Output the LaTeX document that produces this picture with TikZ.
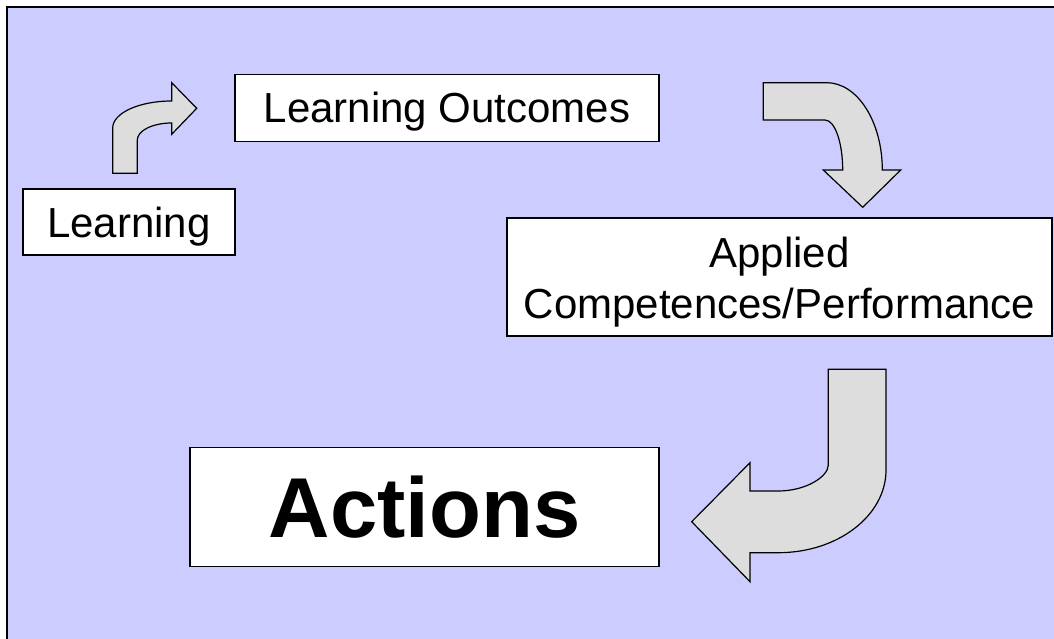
\documentclass[tikz,border=0pt]{standalone}
\usepackage{fontspec}
\setmainfont{Liberation Sans}
\definecolor{bgblue}{HTML}{CCCCFF}
\definecolor{arrowgray}{HTML}{DDDDDD}
\tikzset{
  box/.style={draw=black, line width=1.5pt, fill=white, inner sep=0pt, align=center,
    font=\fontsize{42}{51}\selectfont},
  boxtext/.style={inner sep=0pt, align=center, font=\fontsize{42}{51}\selectfont},
  blockarrow/.style={draw=black, line width=1.2pt, fill=arrowgray, line join=miter},
}
\begin{document}
\begin{tikzpicture}[x=1pt, y=-1pt]
\useasboundingbox (0,0) rectangle (1054,639);
\clip (0,0) rectangle (1054,639);
% background frame
\fill[bgblue] (7,7) rectangle (1080,680);
\draw[line width=2pt] (7,680) -- (7,7) -- (1080,7);

% boxes
\node[box, minimum width=212pt, minimum height=66pt, text height=30pt, text depth=0pt] (learn) at (129,222) {Learning};
\node[box, minimum width=424pt, minimum height=67pt, text height=29pt, text depth=0pt] (outcomes) at (447,108) {Learning Outcomes};
\node[box, minimum width=545pt, minimum height=118pt] (applied) at (779.5,277) {};
\node[boxtext] (appliedtext) at (779.5,282) {Applied\\Competences/Performance};
\node[box, minimum width=469pt, minimum height=119pt, font=\fontsize{85}{100}\selectfont\bfseries, text height=61pt, text depth=0pt] (actions) at (424.5,507) {Actions};

% arrow 1: Learning -> Learning Outcomes
\draw[blockarrow] (112.7,173.3) -- (112.7,128)
  .. controls (112.7,113.1) and (139.1,101) .. (171.7,101)
  -- (171.7,82.7) -- (196.7,108.3) -- (171.7,134.3) -- (171.7,123)
  .. controls (152.7,123) and (137.3,130.6) .. (137.3,140)
  -- (137.3,173.3) -- cycle;

% arrow 2: Learning Outcomes -> Applied
\draw[blockarrow] (763.3,82.7) -- (826.7,82.7)
  .. controls (857.4,82.7) and (882.3,121.8) .. (882.3,170)
  -- (900.7,170) -- (862.7,207.3) -- (823.3,170) -- (842.7,170)
  .. controls (842.7,142.4) and (834.8,120) .. (825,120)
  -- (763.3,120) -- cycle;

% arrow 3: Applied -> Actions
\draw[blockarrow] (828.3,369.3) -- (886,369.3) -- (886,470)
  .. controls (886,515.6) and (837.8,552.7) .. (778.3,552.7)
  -- (750,552.7) -- (750,581.7) -- (691.7,521.7) -- (750,462.7) -- (750,491) -- (778.3,491)
  .. controls (805.9,491) and (828.3,476.6) .. (828.3,465)
  -- cycle;
\end{tikzpicture}
\end{document}
